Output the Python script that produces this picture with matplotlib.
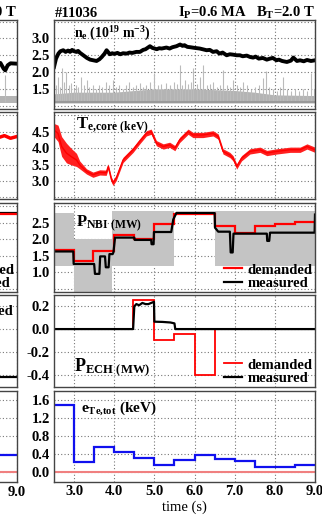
import matplotlib
matplotlib.use("Agg")
from matplotlib import pyplot as plt
import numpy as np

plt.rcParams['font.family'] = 'Liberation Serif'
plt.rcParams['font.weight'] = 'bold'
plt.rcParams['mathtext.fontset'] = 'custom'
plt.rcParams['mathtext.rm'] = 'Liberation Serif:bold'
plt.rcParams['mathtext.it'] = 'Liberation Serif:bold'
plt.rcParams['mathtext.bf'] = 'Liberation Serif:bold'

# ---- data (shot #11036) ----
# density n_e
ne_t = [2.5, 2.55, 2.61, 2.66, 2.73, 2.79, 2.85, 2.9, 2.95, 3.0, 3.06, 3.1, 3.15, 3.23, 3.32, 3.4, 3.48,
        3.56, 3.63, 3.69, 3.76, 3.81, 3.89, 3.95, 4.0, 4.08, 4.15, 4.22, 4.31, 4.38, 4.45, 4.55, 4.64,
        4.72, 4.78, 4.89, 4.95, 5.06, 5.12, 5.18, 5.3, 5.38, 5.45, 5.55, 5.64, 5.7, 5.75, 5.82, 5.89,
        6.0, 6.13, 6.2, 6.3, 6.38, 6.46, 6.55, 6.62, 6.7, 6.8, 6.88, 6.95, 7.05, 7.13, 7.2, 7.3, 7.38,
        7.46, 7.52, 7.6, 7.7, 7.8, 7.88, 7.95, 8.04, 8.1, 8.18, 8.3, 8.4, 8.46, 8.55, 8.63, 8.72,
        8.8, 8.9, 9.0]
ne_v = [2.15, 2.4, 2.55, 2.62, 2.65, 2.6, 2.64, 2.6, 2.66, 2.62, 2.6, 2.63, 2.57, 2.5, 2.42, 2.37, 2.35,
        2.33, 2.38, 2.45, 2.55, 2.65, 2.53, 2.56, 2.54, 2.57, 2.53, 2.56, 2.55, 2.58, 2.57, 2.6, 2.6,
        2.66, 2.68, 2.77, 2.72, 2.68, 2.71, 2.7, 2.73, 2.7, 2.74, 2.77, 2.82, 2.78, 2.8, 2.75, 2.74,
        2.72, 2.7, 2.68, 2.65, 2.66, 2.6, 2.62, 2.55, 2.58, 2.5, 2.53, 2.52, 2.5, 2.5, 2.47, 2.49, 2.45,
        2.43, 2.46, 2.4, 2.42, 2.37, 2.4, 2.42, 2.35, 2.37, 2.33, 2.3, 2.34, 2.43, 2.33, 2.35, 2.32,
        2.36, 2.33, 2.35]
# gray fluctuation signal in top panel: base band and spikes
gray_t = [2.5, 3.0, 4.0, 4.5, 5.0, 6.0, 7.0, 7.5, 8.0, 9.0]
gray_lo = [1.08, 1.08, 1.08, 1.08, 1.08, 1.08, 1.08, 1.08, 1.08, 1.08]
gray_hi = [1.35, 1.4, 1.4, 1.45, 1.5, 1.5, 1.45, 1.4, 1.32, 1.3]
spike_t = [2.55, 2.61, 2.66, 2.71, 2.76, 2.81, 2.87, 2.93, 2.99, 3.05, 3.11, 3.18, 3.24, 3.31, 3.38,
           3.47, 3.55, 3.62, 3.7, 3.8, 3.88, 3.97, 4.05, 4.13, 4.22, 4.3, 4.38, 4.46, 4.55, 4.63,
           4.72, 4.8, 4.9, 5.0, 5.08, 5.17, 5.3, 5.4, 5.5, 5.56, 5.63, 5.7, 5.75, 5.83, 5.9, 5.96,
           6.05, 6.13, 6.22, 6.3, 6.38, 6.46, 6.55, 6.63, 6.71, 6.8, 6.88, 6.96, 7.05, 7.13, 7.21,
           7.3, 7.4, 7.5, 7.6, 7.71, 7.77, 7.85, 7.95, 8.05, 8.13, 8.21, 8.3, 8.4, 8.5, 8.6, 8.7,
           8.8, 8.9, 8.97]
spike_v = [1.6, 1.86, 1.55, 2.11, 1.7, 2.0, 1.6, 1.67, 1.5, 1.6, 1.55, 1.86, 1.6, 1.76, 1.55,
           1.61, 1.5, 1.6, 1.55, 1.71, 1.6, 1.76, 1.55, 1.61, 1.5, 1.6, 1.71, 1.55, 1.6, 1.67,
           1.55, 1.6, 1.7, 1.96, 1.6, 1.65, 1.67, 1.6, 1.7, 1.65, 2.21, 1.6, 1.76, 1.65, 1.7, 2.11,
           1.65, 1.86, 2.2, 1.6, 1.65, 1.71, 1.55, 1.6, 2.06, 1.6, 1.55, 1.76, 1.6, 1.55, 1.71,
           1.6, 1.5, 1.55, 1.6, 1.81, 2.03, 1.55, 1.5, 1.45, 1.55, 1.86, 1.5, 1.45, 1.5, 1.45, 1.5,
           1.45, 1.96, 1.5]

# core electron temperature (centre of noisy trace and its half spread)
te_t = [2.5, 2.6, 2.69, 2.81, 2.93, 3.06, 3.14, 3.31, 3.47, 3.64, 3.8, 3.85, 3.93, 3.97, 4.05, 4.22,
        4.47, 4.63, 4.8, 4.92, 5.05, 5.22, 5.38, 5.51, 5.63, 5.84, 5.96, 6.21, 6.46, 6.59, 6.71,
        6.88, 6.96, 7.05, 7.17, 7.38, 7.63, 7.8, 8.05, 8.38, 8.63, 8.8, 9.0]
te_v = [4.55, 4.45, 4.05, 3.85, 3.74, 3.64, 3.49, 3.29, 3.19, 3.26, 3.25, 3.44, 3.04, 2.94, 3.09, 3.64,
        3.95, 4.2, 4.45, 4.5, 4.15, 4.05, 4.1, 4.0, 4.25, 4.5, 4.4, 4.4, 4.45, 4.35, 3.9,
        3.79, 3.69, 3.44, 3.69, 3.9, 3.95, 3.85, 3.9, 3.95, 3.95, 4.05, 3.95]
te_dv = [0.2, 0.25, 0.3, 0.3, 0.25, 0.2, 0.12, 0.08, 0.08, 0.08, 0.08, 0.08, 0.08, 0.08, 0.08, 0.08,
         0.08, 0.08, 0.08, 0.08, 0.08, 0.08, 0.08, 0.08, 0.08, 0.08, 0.08, 0.08, 0.08, 0.08, 0.08,
         0.08, 0.08, 0.08, 0.08, 0.08, 0.08, 0.08, 0.08, 0.08, 0.08, 0.08, 0.08]

# NBI power
nbi_dem_edges = [2.5, 3.0, 3.47, 4.0, 4.5, 5.0, 5.5, 6.5, 7.0, 7.5, 8.0, 8.5, 9.0]
nbi_dem = [1.67, 1.35, 1.65, 2.13, 2.02, 2.45, 2.77, 2.4, 2.2, 2.4, 2.47, 2.52]
nbi_meas_t = [2.5, 2.98, 2.99, 3.5, 3.52, 3.63, 3.65, 3.77, 3.79, 3.86, 3.88, 3.96, 3.98, 4.02, 4.5,
              4.51, 4.92, 4.93, 4.98, 4.99, 5.42, 5.47, 5.55, 6.5, 6.51, 6.59, 6.88, 6.9, 6.95,
              6.97, 7.02, 7.8, 7.81, 7.86, 7.88, 8.99, 9.0]
nbi_meas = [1.63, 1.63, 1.25, 1.25, 0.95, 0.95, 1.48, 1.48, 1.15, 1.15, 1.55, 1.55, 1.6, 2.05, 2.05,
            1.98, 1.98, 1.85, 1.85, 2.22, 2.22, 2.6, 2.8, 2.8, 2.35, 2.23, 2.23, 1.6, 1.6,
            2.17, 2.17, 2.17, 1.95, 1.95, 2.2, 2.2, 2.75]
# modulated (beam-on/off) envelope shown in gray
nbi_mod_t = [[2.5, 3.0], [3.0, 3.95], [3.95, 5.5], [6.5, 9.0]]
nbi_mod_lo = [1.2, 0.4, 1.2, 1.2]
nbi_mod_hi = [2.8, 2.0, 2.85, 2.85]

# ECH power
ech_dem_edges = [2.5, 4.47, 5.0, 5.5, 6.0, 6.5, 9.0]
ech_dem = [0.0, 0.26, -0.095, -0.045, -0.4, 0.0]
ech_meas_t = [2.5, 4.47, 4.5, 4.55, 4.62, 4.7, 4.78, 4.85, 4.92, 4.99, 5.0, 5.2, 5.4, 5.5, 5.52, 9.0]
ech_meas = [0.0, 0.0, 0.2, 0.22, 0.21, 0.23, 0.22, 0.22, 0.23, 0.24, 0.065, 0.063, 0.058, 0.05, 0.0, 0.0]

# T_e tracking error
err_edges = [2.5, 3.0, 3.5, 4.0, 4.5, 5.0, 5.5, 6.0, 6.5, 7.0, 7.5, 8.0, 8.5, 9.0]
err_v = [1.48, 0.22, 0.56, 0.45, 0.31, 0.17, 0.27, 0.39, 0.30, 0.26, 0.13, 0.13, 0.16]

# neighbouring column (only its right edge is visible)
left_ne_t = [8.3, 8.6, 8.68, 8.72, 8.78, 8.85, 9.0]
left_ne_v = [2.28, 2.27, 2.1, 2.05, 2.2, 2.26, 2.25]
left_te_t = [8.3, 8.5, 8.7, 8.85, 9.0]
left_te_v = [4.35, 4.3, 4.38, 4.3, 4.35]
left_nbi_v = 2.8
left_ech_v = -0.42
left_err_v = 0.39

# ---- layout ----
W, H = 322, 519
fig = plt.figure(figsize=(W / 100, H / 100), dpi=100)
rows = [(20, 109), (112, 199), (203, 292), (295, 387), (391, 482)]
x0, x1 = 54, 315
lx1 = 16.5

def box(px_l, px_r, top, bot):
    return [px_l / W, 1 - bot / H, (px_r - px_l) / W, (bot - top) / H]

ylims = [(0.9, 3.55), (2.45, 5.1), (0.4, 3.1), (-0.51, 0.30), (-0.21, 1.79)]
yticks = [[1.5, 2.0, 2.5, 3.0], [3.0, 3.5, 4.0, 4.5], [1.0, 1.5, 2.0, 2.5],
          [-0.4, -0.2, 0.0, 0.2], [0.0, 0.4, 0.8, 1.2, 1.6]]
yminor = [[1.0, 3.5], [2.5, 5.0], [0.5, 3.0], [], []]

def style(ax, i, labels=True):
    ax.set_xlim(2.5, 9.0)
    ax.set_ylim(*ylims[i])
    ax.set_xticks([3, 4, 5, 6, 7, 8, 9])
    ax.set_yticks(yticks[i])
    ax.set_yticks(yminor[i], minor=True)
    ax.yaxis.set_major_formatter(matplotlib.ticker.FormatStrFormatter('%.1f'))
    ax.xaxis.set_major_formatter(matplotlib.ticker.FormatStrFormatter('%.1f'))
    ax.grid(True, which='both', ls=(0, (1, 2)), color='#777777', lw=0.8)
    ax.tick_params(which='both', direction='in', length=0, labelsize=10.5, pad=3)
    for s in ax.spines.values():
        s.set_color('#444444')
        s.set_linewidth(1.0)
    if i < 4 or not labels:
        ax.tick_params(axis='x', labelbottom=(i == 4))
    if not labels:
        ax.tick_params(axis='y', labelleft=False)
    ax.set_axisbelow(True)

axs = [fig.add_axes(box(x0, x1, t, b)) for t, b in rows]
lax = [fig.add_axes(box(lx1 - (x1 - x0), lx1, t, b)) for t, b in rows]
for i in range(5):
    style(axs[i], i)
    style(lax[i], i, labels=False)
lax[4].tick_params(axis='x', labelbottom=True)

# panel 1
ax = axs[0]
ax.fill_between(gray_t, gray_lo, gray_hi, color='#b4b4b4', lw=0)
ax.vlines(spike_t, 1.1, spike_v, color='#bbbbbb', lw=0.8)
ax.plot(gray_t, [1.12] * len(gray_t), color='#999999', lw=1.5)
ax.plot(ne_t, ne_v, color='black', lw=2.8)
ax.text(0.077, 0.95, r'n$_\mathrm{e}$ (10$^{19}$ m$^{-3}$)', transform=ax.transAxes,
        fontsize=10, va='top', ha='left')

# panel 2
ax = axs[1]
te_v_a = np.array(te_v)
te_dv_a = np.array(te_dv)
ax.fill_between(te_t, te_v_a - te_dv_a, te_v_a + te_dv_a, color='#ff2020', lw=0)
ax.plot(te_t, te_v, color='red', lw=1.0)
ax.text(0.085, 0.95, r'T$_\mathrm{e{,}core\ (keV)}$', transform=ax.transAxes,
        fontsize=12, va='top', ha='left')

# panel 3
ax = axs[2]
for tt, lo, hi in zip(nbi_mod_t, nbi_mod_lo, nbi_mod_hi):
    ax.fill_between(tt, [lo, lo], [hi, hi], color='#c4c4c4', lw=0)
ax.plot(nbi_meas_t, nbi_meas, color='black', lw=1.6, label='measured')
ax.stairs(nbi_dem, nbi_dem_edges, color='red', lw=1.6, baseline=None, label='demanded')
ax.text(0.085, 0.88, r'P$_\mathrm{NBI\ (MW)}$', transform=ax.transAxes,
        fontsize=12, va='top', ha='left')
h, l = ax.get_legend_handles_labels()
leg_kw = dict(frameon=False, fontsize=10.5, handlelength=1.2, handletextpad=0.4,
              labelspacing=0.0, borderaxespad=0.1, borderpad=0.05)
ax.legend(h[::-1], l[::-1], loc='lower right', **leg_kw)

# panel 4
ax = axs[3]
ax.stairs(ech_dem, ech_dem_edges, color='red', lw=1.3, baseline=None, label='demanded')
ax.plot(ech_meas_t, ech_meas, color='black', lw=1.6, label='measured')
ax.text(0.075, 0.10, r'P$_\mathrm{ECH\ (MW)}$', transform=ax.transAxes,
        fontsize=13, va='bottom', ha='left')
ax.legend(loc='lower right', **leg_kw)

# panel 5
ax = axs[4]
ax.axhline(0.0, color='#f08080', lw=1.5)
ax.stairs(err_v, err_edges, color='#1010ee', lw=1.6, baseline=None)
ax.text(0.105, 0.91, r'e$_\mathrm{Te{,}tot}$ (keV)', transform=ax.transAxes,
        fontsize=11, va='top', ha='left')
ax.set_xlabel('time (s)', fontsize=10.5, labelpad=2)
ax.tick_params(axis='x', pad=2)

# neighbouring column
lax[0].fill_between([8.0, 9.0], [1.08, 1.08], [1.3, 1.3], color='#b4b4b4', lw=0)
lax[0].vlines([8.72], 1.1, 1.9, color='#bbbbbb', lw=0.8)
lax[0].plot(left_ne_t, left_ne_v, color='black', lw=2.8)
lax[1].plot(left_te_t, left_te_v, color='red', lw=2.5)
lax[2].plot([8.0, 9.0], [left_nbi_v, left_nbi_v], color='black', lw=1.6)
lax[2].plot([8.0, 9.0], [left_nbi_v - 0.03, left_nbi_v - 0.03], color='red', lw=1.6)
lax[2].plot([], [], color='red', lw=1.6, label='demanded')
lax[2].plot([], [], color='black', lw=1.6, label='measured')
lax[2].legend(loc='lower right', **leg_kw)
lax[3].plot([8.0, 9.0], [left_ech_v, left_ech_v], color='black', lw=1.6)
lax[3].text(0.99, 0.78, 'measured', transform=lax[3].transAxes, fontsize=10.5, ha='right')
lax[4].axhline(0.0, color='#f08080', lw=1.5)
lax[4].plot([8.0, 9.0], [left_err_v, left_err_v], color='#1010ee', lw=1.6)

# titles
fig.text(55 / W, 1 - 17 / H, '#11036', fontsize=10.5, ha='left', va='baseline')
fig.text(x1 / W, 1 - 17 / H, r'I$_\mathrm{P}$=0.6 MA   B$_\mathrm{T}$=2.0 T', fontsize=10.5,
         ha='right', va='baseline')
fig.text(lx1 / W, 1 - 17 / H, r'B$_\mathrm{T}$=2.0 T', fontsize=10.5, ha='right', va='baseline')

fig.savefig('out.png', dpi=100)
